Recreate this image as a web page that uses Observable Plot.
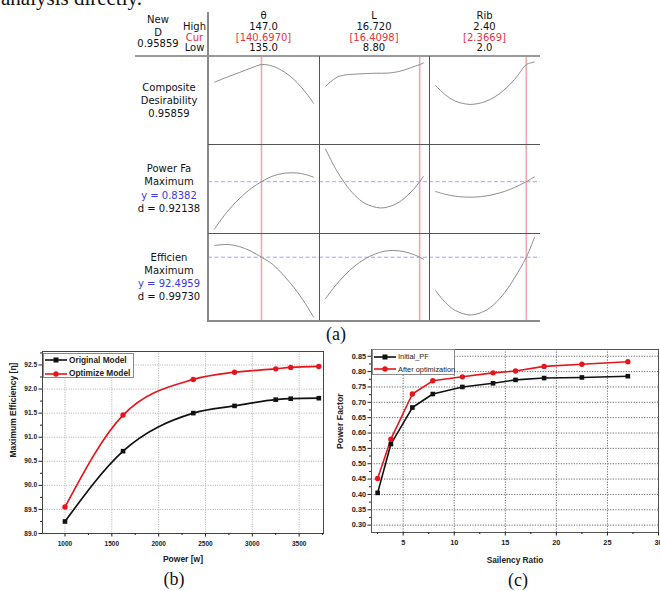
<!DOCTYPE html>
<html><head><meta charset="utf-8">
<script src="https://cdn.jsdelivr.net/npm/d3@7"></script>
<script src="https://cdn.jsdelivr.net/npm/@observablehq/plot@0.6"></script>
<style>
body{margin:0;background:#fff;}
#root{position:relative;width:660px;height:591px;overflow:hidden;background:#fff;font-family:"DejaVu Sans",sans-serif;}
.t{position:absolute;white-space:nowrap;line-height:1;transform:translate(-50%,-50%);font-size:10px;color:#111;}
.ln{position:absolute;}
.serif{font-family:"Liberation Serif","Times New Roman",serif;}
.lg{position:absolute;background:#fff;border:1px solid #8a8a8a;box-sizing:border-box;}
.lgi{position:absolute;left:0;display:flex;align-items:center;white-space:nowrap;line-height:1;font-family:"Liberation Sans",Arial,sans-serif;}
</style></head><body><div id="root"></div>
<script>
// ---------------- DATA ----------------
// Panel (a): optimisation plot
const factorNames = ["θ", "L", "Rib"];
const factorHighText = ["147.0", "16.720", "2.40"];
const factorCurText = ["[140.6970]", "[16.4098]", "[2.3669]"];
const factorLowText = ["135.0", "8.80", "2.0"];
const factorLow = [135.0, 8.80, 2.0];
const factorHigh = [147.0, 16.72, 2.40];
const factorCur = [140.6970, 16.4098, 2.3669];
const headerLeft = ["New", "D", "0.95859"];
const headerLevels = ["High", "Cur", "Low"];
const rowLabels = [
  ["Composite", "Desirability", "0.95859"],
  ["Power Fa", "Maximum", "y = 0.8382", "d = 0.92138"],
  ["Efficien", "Maximum", "y = 92.4959", "d = 0.99730"]
];
const responseTargets = [null, 0.8382, 92.4959];
const responseRanges = [[0.55, 1.0], [0.78, 0.88], [91.4, 92.9]];

// response curves
const thetaX = [135, 136.5, 138, 139.5, 140.697, 142, 143.5, 145, 146, 147];
const desirTheta = [0.869, 0.894, 0.918, 0.942, 0.9586, 0.951, 0.920, 0.867, 0.819, 0.761];
const pfTheta = [0.785, 0.804, 0.819, 0.831, 0.8382, 0.8443, 0.8478, 0.848, 0.8463, 0.8433];
const effTheta = [92.695, 92.713, 92.678, 92.593, 92.496, 92.380, 92.167, 91.911, 91.707, 91.477];

const lXdesir = [8.8, 9.2, 9.75, 10.25, 10.8, 12.6, 14.0, 14.9, 15.4, 16.05, 16.41, 16.72];
const desirL = [0.847, 0.870, 0.895, 0.904, 0.908, 0.914, 0.916, 0.926, 0.936, 0.951, 0.9586, 0.967];
const lXpf = [8.8, 9.59, 10.38, 11.18, 11.97, 13.24, 14.34, 15.14, 15.93, 16.41, 16.72];
const pfL = [0.8749, 0.8534, 0.8361, 0.8229, 0.814, 0.8087, 0.8122, 0.8192, 0.8299, 0.8382, 0.8443];
const lXeff = [8.8, 9.59, 10.38, 11.18, 11.97, 12.76, 13.55, 14.26, 15.14, 15.93, 16.41, 16.72];
const effL = [91.787, 92.009, 92.194, 92.348, 92.465, 92.547, 92.597, 92.610, 92.591, 92.542, 92.496, 92.462];

const ribXdesir = [2.0, 2.04, 2.08, 2.14, 2.2, 2.24, 2.28, 2.32, 2.3669, 2.384, 2.4];
const desirRib = [0.852, 0.804, 0.772, 0.755, 0.769, 0.794, 0.832, 0.883, 0.9586, 0.967, 0.972];
const ribX = [2.0, 2.04, 2.08, 2.14, 2.2, 2.24, 2.28, 2.32, 2.3669, 2.4];
const pfRib = [0.8272, 0.8240, 0.8219, 0.8208, 0.8220, 0.8242, 0.8274, 0.8318, 0.8382, 0.8437];
const effRib = [91.928, 91.724, 91.588, 91.511, 91.581, 91.707, 91.894, 92.147, 92.496, 92.835];

const curveX = [[thetaX, lXdesir, ribXdesir], [thetaX, lXpf, ribX], [thetaX, lXeff, ribX]];
const curveY = [[desirTheta, desirL, desirRib], [pfTheta, pfL, pfRib], [effTheta, effL, effRib]];

// Panel (b)
const seriesB = ["Original Model", "Optimize Model"];
const powerW = [1000, 1620, 2370, 2810, 3250, 3410, 3710];
const effOriginal = [89.25, 90.71, 91.50, 91.65, 91.78, 91.80, 91.81];
const effOptimized = [89.55, 91.46, 92.20, 92.35, 92.42, 92.45, 92.47];
const xTicksB = [1000, 1500, 2000, 2500, 3000, 3500];
const xMinorB = [1250, 1750, 2250, 2750, 3250, 3750];
const yTicksB = [89.0, 89.5, 90.0, 90.5, 91.0, 91.5, 92.0, 92.5];
const yMinorB = [89.25, 89.75, 90.25, 90.75, 91.25, 91.75, 92.25, 92.75];

// Panel (c)
const seriesC = ["Initial_PF", "After optimization"];
const saliency = [2.5, 3.8, 5.9, 7.9, 10.8, 13.8, 16.0, 18.8, 22.5, 27.0];
const pfInitial = [0.405, 0.564, 0.683, 0.727, 0.750, 0.762, 0.773, 0.779, 0.781, 0.785];
const pfAfter = [0.452, 0.580, 0.727, 0.770, 0.783, 0.796, 0.802, 0.817, 0.824, 0.832];
const xTicksC = [5, 10, 15, 20, 25, 30];
const xMinorC = [2.5, 7.5, 12.5, 17.5, 22.5, 27.5];
const yTicksC = [0.30, 0.35, 0.40, 0.45, 0.50, 0.55, 0.60, 0.65, 0.70, 0.75, 0.80, 0.85];
const yMinorC = [0.325, 0.375, 0.425, 0.475, 0.525, 0.575, 0.625, 0.675, 0.725, 0.775, 0.825];

// ---------------- HELPERS ----------------
const root = document.getElementById("root");
const RED = "#e3343e", BLUE = "#3838dc", BLACK = "#111", SERIES_RED = "#e8141c";
function place(el, left, top) {
  el.style.position = "absolute"; el.style.left = left + "px"; el.style.top = top + "px";
  root.appendChild(el); return el;
}
function txt(str, cx, cy, style = {}, cls = "t") {
  const d = document.createElement("div"); d.className = cls; d.textContent = str;
  d.style.left = cx + "px"; d.style.top = cy + "px";
  Object.assign(d.style, style); root.appendChild(d); return d;
}
function rect(x, y, w, h, color) {
  const d = document.createElement("div"); d.className = "ln";
  Object.assign(d.style, {left: x + "px", top: y + "px", width: w + "px", height: h + "px", background: color});
  root.appendChild(d);
}
function legend(names, colors, symbols, box, rowYs, fontStyle) {
  const d = document.createElement("div"); d.className = "lg";
  Object.assign(d.style, {left: box[0] + "px", top: box[1] + "px", width: box[2] + "px", height: box[3] + "px"});
  names.forEach((n, i) => {
    const it = document.createElement("div"); it.className = "lgi";
    it.style.top = (rowYs[i] - box[1] - 5) + "px"; it.style.height = "10px";
    const s = d3.create("svg").attr("width", 24).attr("height", 10).style("flex", "none");
    s.append("line").attr("x1", 1).attr("x2", 23).attr("y1", 5).attr("y2", 5).attr("stroke", colors[i]).attr("stroke-width", 1.6);
    if (symbols[i] === "square") s.append("rect").attr("x", 9.5).attr("y", 2.5).attr("width", 5).attr("height", 5).attr("fill", colors[i]);
    else s.append("circle").attr("cx", 12).attr("cy", 5).attr("r", 2.7).attr("fill", colors[i]);
    it.appendChild(s.node());
    const sp = document.createElement("span"); sp.textContent = n; Object.assign(sp.style, fontStyle);
    sp.style.marginLeft = "1px";
    it.appendChild(sp); d.appendChild(it);
  });
  root.appendChild(d);
}

// ---------------- PANEL (a) ----------------
// top cut-off text line
txt("analysis directly.", 1, -12, {fontSize: "21px", transform: "none", lineHeight: "21px", fontFamily: "'Liberation Serif','Times New Roman',serif"}, "t serif");

const colEdges = [208, 319, 429, 540];
const rowEdges = [56, 144, 233, 321];

for (let r = 0; r < 3; r++) {
  for (let c = 0; c < 3; c++) {
    const w = colEdges[c + 1] - colEdges[c], h = rowEdges[r + 1] - rowEdges[r];
    const data = curveX[r][c].map((x, i) => ({x, y: curveY[r][c][i]}));
    const p = Plot.plot({
      width: w, height: h, margin: 0,
      style: {background: "transparent", overflow: "visible"},
      x: {domain: [factorLow[c], factorHigh[c]], range: [6, w - 6], axis: null},
      y: {domain: responseRanges[r], range: [h, 0], axis: null},
      marks: [
        responseTargets[r] != null ? Plot.ruleY([responseTargets[r]], {stroke: "#a4a4f2", strokeWidth: 1, strokeDasharray: "4,2.5"}) : null,
        Plot.ruleX([factorCur[c]], {stroke: "#f2a6ae", strokeWidth: 1.6}),
        Plot.line(data, {x: "x", y: "y", stroke: "#8d8d8d", strokeWidth: 1, curve: "catmull-rom"})
      ]
    });
    place(p, colEdges[c], rowEdges[r]);
  }
}
// grid lines of the optimisation plot
rect(135, 55, 405, 2, "#9a9a9a");          // header line
rect(207, 12, 2, 310, "#8a8a8a");          // left axis
rect(208, 143.5, 332, 1, "#555");          // row separators
rect(208, 232.5, 332, 1, "#555");
rect(318.5, 56, 1, 265, "#555");           // column separators
rect(428.5, 56, 1, 265, "#555");
rect(208, 320, 332, 2, "#8a8a8a");         // bottom line

// header texts
[20, 32.5, 43.5].forEach((y, i) => txt(headerLeft[i], 158, y));
[27, 37.5, 47.5].forEach((y, i) => txt(headerLevels[i], 194.5, y, i === 1 ? {color: RED} : {}));
const colCenters = [263.5, 374, 484.5];
factorNames.forEach((n, c) => {
  txt(n, colCenters[c], 15.5);
  txt(factorHighText[c], colCenters[c], 27);
  txt(factorCurText[c], colCenters[c], 37.5, {color: RED});
  txt(factorLowText[c], colCenters[c], 47.5);
});
// row labels
const rowLabelY = [[87.5, 100.5, 113.5], [169, 182.3, 195.7, 208.5], [257.5, 270.7, 284, 297.3]];
rowLabels.forEach((lines, r) => lines.forEach((s, i) => txt(s, 169, rowLabelY[r][i], s.startsWith("y =") ? {color: BLUE} : {})));
txt("(a)", 336, 334, {fontSize: "18px"}, "t serif");

// ---------------- PANEL (b) ----------------
const bOrig = powerW.map((p, i) => ({p, v: effOriginal[i]}));
const bOpt = powerW.map((p, i) => ({p, v: effOptimized[i]}));
const boldSans = "'Liberation Sans', Arial, sans-serif";
const plotB = Plot.plot({
  width: 330, height: 240, marginLeft: 42, marginTop: 11, marginRight: 7, marginBottom: 47,
  style: {fontFamily: boldSans, fontWeight: "bold", fontSize: "6.5px", background: "transparent", overflow: "visible", color: "#222"},
  x: {domain: [760, 3760], label: null},
  y: {domain: [89.0, 92.78], label: null},
  marks: [
    Plot.gridX(xTicksB, {stroke: "#b8b8b8", strokeOpacity: 1, strokeDasharray: "1.2,1.2"}),
    Plot.gridY(yTicksB.slice(1), {stroke: "#b8b8b8", strokeOpacity: 1, strokeDasharray: "1.2,1.2"}),
    Plot.frame({stroke: "#444"}),
    Plot.axisX(xMinorB.filter(d => d < 3760), {tickSize: 2, tickFormat: () => "", label: null}),
    Plot.axisX(xTicksB, {tickSize: 3.5, tickPadding: 4, tickFormat: d => String(d), label: null}),
    Plot.axisY(yMinorB, {tickSize: 2, tickFormat: () => "", label: null}),
    Plot.axisY(yTicksB, {tickSize: 3.5, tickPadding: 2, tickFormat: d => d.toFixed(1), label: null}),
    Plot.line(bOrig, {x: "p", y: "v", stroke: BLACK, strokeWidth: 1.7, curve: "monotone-x"}),
    Plot.line(bOpt, {x: "p", y: "v", stroke: SERIES_RED, strokeWidth: 1.7, curve: "monotone-x"}),
    Plot.dot(bOrig, {x: "p", y: "v", symbol: "square", fill: BLACK, r: 2.6}),
    Plot.dot(bOpt, {x: "p", y: "v", symbol: "circle", fill: SERIES_RED, r: 2.7}),
    Plot.text(["Power [w]"], {text: d => d, frameAnchor: "bottom", dy: 28, fontSize: 8.5, fontWeight: "bold", fill: "#222"}),
    Plot.text(["Maximum Efficiency [η]"], {text: d => d, frameAnchor: "left", dx: -29, dy: 15, rotate: -90, fontSize: 8.5, fontWeight: "bold", fill: "#222"})
  ]
});
place(plotB, 0, 340);
legend(seriesB, [BLACK, SERIES_RED], ["square", "circle"], [43, 352.5, 91, 25.5], [359.3, 372.5],
  {fontSize: "8.3px", fontWeight: "bold", color: "#222"});
txt("(b)", 174, 579, {fontSize: "18px"}, "t serif");

// ---------------- PANEL (c) ----------------
const cInit = saliency.map((s, i) => ({s, v: pfInitial[i]}));
const cAfter = saliency.map((s, i) => ({s, v: pfAfter[i]}));
const plotC = Plot.plot({
  width: 330, height: 240, marginLeft: 41, marginTop: 9, marginRight: 2, marginBottom: 48,
  style: {fontFamily: boldSans, fontWeight: "bold", fontSize: "7.3px", background: "transparent", overflow: "visible", color: "#222"},
  x: {domain: [1.9, 30], label: null},
  y: {domain: [0.276, 0.872], label: null},
  marks: [
    Plot.gridX(xTicksC.filter(d => d < 30), {stroke: "#6a6a6a", strokeOpacity: 1, strokeDasharray: "1.2,1.4"}),
    Plot.gridY(yTicksC, {stroke: "#6a6a6a", strokeOpacity: 1, strokeDasharray: "1.2,1.4"}),
    Plot.frame({stroke: "#555"}),
    Plot.axisX(xMinorC, {tickSize: 2, tickFormat: () => "", label: null}),
    Plot.axisX(xTicksC, {tickSize: 3.5, tickPadding: 4, tickFormat: d => String(d), label: null}),
    Plot.axisY(yMinorC, {tickSize: 2, tickFormat: () => "", label: null}),
    Plot.axisY(yTicksC, {tickSize: 3.5, tickPadding: 2, tickFormat: d => d.toFixed(2), label: null}),
    Plot.line(cInit, {x: "s", y: "v", stroke: BLACK, strokeWidth: 1.6}),
    Plot.line(cAfter, {x: "s", y: "v", stroke: SERIES_RED, strokeWidth: 1.6}),
    Plot.dot(cInit, {x: "s", y: "v", symbol: "square", fill: BLACK, r: 2.6}),
    Plot.dot(cAfter, {x: "s", y: "v", symbol: "circle", fill: SERIES_RED, r: 2.7}),
    Plot.text(["Sailency Ratio"], {text: d => d, frameAnchor: "bottom", dy: 30, fontSize: 8.3, fontWeight: "bold", fill: "#222"}),
    Plot.text(["Power Factor"], {text: d => d, frameAnchor: "left", dx: -31, dy: 8, rotate: -90, fontSize: 8.8, fontWeight: "bold", fill: "#222"})
  ]
});
place(plotC, 330, 340);
legend(seriesC, [BLACK, SERIES_RED], ["square", "circle"], [372, 349, 83, 25.5], [355.7, 368.3],
  {fontSize: "7.4px", fontWeight: "normal", color: "#222"});
txt("(c)", 518, 580, {fontSize: "18px"}, "t serif");
</script></body></html>
